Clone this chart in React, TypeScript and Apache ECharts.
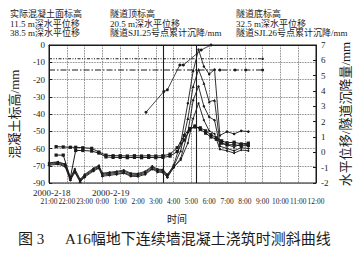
import React, { useEffect, useRef } from "react";
import * as echarts from "echarts";

// ---- data ----
const timeLabels = ["21:00", "22:00", "23:00", "0:00", "1:00", "2:00", "3:00", "4:00", "5:00", "6:00", "7:00", "8:00", "9:00", "10:00", "11:00", "12:00"];
const dateLabels = ["2000-2-18", "2000-2-19"];
const leftTickLabels = ["-90", "-70", "-60", "-50", "-40", "-30", "-20", "-10", "0"]; // from -80 to 0
const legendNames = [
  "实际混凝土面标高", "隧道顶标高", "隧道底标高",
  "11.5 m深水平位移", "20.5 m深水平位移", "32.5 m深水平位移",
  "38.5 m深水平位移", "隧道SJL25号点累计沉降/mm", "隧道SJL26号点累计沉降/mm",
];
const eventHours = [6.4, 8.3];

const concreteHours = [5.45, 6.45, 6.65, 7.35, 7.55, 8.55, 9.1];
const concreteLevel = [-39, -27, -26, -11.6, -11.6, -2.9, 0];

const tunnelTopHours = [0, 12];
const tunnelTopLevel = [-8, -8];
const tunnelBottomHours = [0, 9.6, 10.45, 11.05, 12];
const tunnelBottomLevel = [-14.5, -14.5, -14.5, -14.5, -14.5];

const dispHours = [0, 0.5, 0.9, 1.2, 1.45, 1.75, 2.0, 2.5, 2.8, 3.0, 3.4, 3.8, 4.2, 4.6, 5.0, 5.4, 5.8, 6.1, 6.4, 6.65, 7.0, 7.4, 7.8, 8.1, 8.4, 8.7, 9.0, 9.3, 9.6, 10.0, 10.4, 10.8, 11.2];
const disp115 = [-0.78, -0.72, -0.86, -1.76, -1.25, -1.88, -1.56, -1.16, -0.98, -1.5, -1.42, -1.38, -1.3, -1.5, -1.5, -1.38, -1.04, -1.22, -1.24, -1.58, -0.92, 0.1, 2.2, 4.3, 5.4, 4.5, 3.3, 3.4, 0.6, 0.5, 0.35, 0.55, 0.5];
const disp205 = [-0.72, -0.66, -0.8, -1.7, -1.15, -1.82, -1.5, -1.1, -0.9, -1.42, -1.36, -1.3, -1.22, -1.42, -1.44, -1.3, -0.96, -1.16, -1.18, -1.5, -0.85, 0.6, 3.2, 5.3, 6.7, 5.6, 5.1, 5.4, 1.1, 1.35, 1.2, 1.4, 1.35];
const disp325 = [-0.84, -0.78, -0.92, -1.82, -1.32, -1.93, -1.62, -1.22, -1.04, -1.56, -1.5, -1.44, -1.36, -1.56, -1.58, -1.44, -1.1, -1.28, -1.32, -1.64, -1.0, -0.4, 1.3, 3.4, 4.3, 3.0, 2.3, 2.1, 0.4, 0.25, 0.1, 0.3, 0.25];
const disp385 = [-0.68, -0.62, -0.76, -1.64, -1.08, -1.76, -1.44, -1.04, -0.86, -1.36, -1.3, -1.24, -1.16, -1.36, -1.38, -1.24, -0.9, -1.1, -1.12, -1.44, -0.95, -0.5, 0.6, 2.2, 3.2, 2.1, 1.4, 1.2, 0.2, 0.1, -0.05, 0.15, 0.1];

const settleHours = [0.4, 0.8, 1.2, 1.5, 1.9, 2.4, 2.8, 3.2, 3.6, 4.0, 4.4, 4.8, 5.2, 5.6, 6.0, 6.4, 6.8, 7.2, 7.6, 7.9, 8.2, 8.5, 8.8, 9.1, 9.4, 9.7, 10.0, 10.4, 10.8, 11.2];
const settleSJL25 = [0.37, 0.35, 0.33, 0.33, 0.3, 0.26, 0.02, -0.18, -0.22, -0.22, -0.24, -0.22, -0.24, -0.22, -0.24, -0.22, -0.12, 0.3, 1.1, 1.55, 1.65, 1.6, 1.4, 1.15, 0.95, 0.75, 0.62, 0.66, 0.55, 0.6];
const settleSJL26 = [-0.18, -0.18, -1.65, 0.12, 0.12, 0.08, -0.05, -0.3, -0.33, -0.33, -0.35, -0.33, -0.35, -0.33, -0.35, -0.33, -0.25, 0.05, 0.8, 1.45, 1.72, 1.5, 1.25, 1.0, 0.85, 0.6, 0.48, 0.5, 0.42, 0.45];

const captionNo = "图 3";
const captionText = "A16幅地下连续墙混凝土浇筑时测斜曲线";

// ---- helpers ----
const ink = "#1b1b1b";
const serif = '"Liberation Serif", "Noto Sans CJK SC", serif';
const zip = (xs: number[], ys: number[]) => xs.map((x, i) => [x, ys[i]]);
const zipNoFirstSymbol = (xs: number[], ys: number[]) =>
  xs.map((x, i) => (i === 0 ? { value: [x, ys[i]], symbol: "none" } : [x, ys[i]]));

function buildOption() {
  const gridLine = { show: true, lineStyle: { type: "dotted", color: "#555", width: 0.8 } };
  const line = (name: string, data: any[], yAxisIndex: number, extra: any) => ({
    type: "line",
    name,
    data,
    yAxisIndex,
    silent: true,
    showSymbol: true,
    color: ink,
    lineStyle: { color: ink, width: 0.9 },
    itemStyle: { color: ink },
    z: 3,
    ...extra,
  });

  const cols = [10, 110, 236];
  const rows = [14, 23.5, 33];
  const legendTexts = legendNames.map((t, i) => ({
    type: "text",
    x: cols[i % 3],
    y: rows[Math.floor(i / 3)],
    silent: true,
    style: { text: t, fontSize: 9, fontFamily: serif, fill: ink, align: "left", verticalAlign: "middle" },
  }));

  return {
    animation: false,
    backgroundColor: "#ffffff",
    grid: { left: 42, right: 45, top: 45, bottom: 74, show: true, borderColor: ink, borderWidth: 1, backgroundColor: "transparent" },
    xAxis: {
      type: "value",
      min: 0,
      max: 15,
      interval: 1,
      axisLine: { show: true, lineStyle: { color: ink } },
      axisTick: { show: false },
      axisLabel: {
        fontSize: 7.4,
        fontFamily: serif,
        color: ink,
        margin: 15,
        showMinLabel: true,
        showMaxLabel: true,
        hideOverlap: false,
        formatter: (v: number) => timeLabels[Math.round(v)] ?? "",
      },
      splitLine: gridLine,
    },
    yAxis: [
      {
        type: "value",
        min: -80,
        max: 0,
        interval: 10,
        name: "混凝土标高/mm",
        nameLocation: "middle",
        nameGap: 28,
        nameTextStyle: { fontSize: 13, fontFamily: serif, color: ink },
        axisLine: { show: true, lineStyle: { color: ink } },
        axisTick: { show: true, inside: true, length: 3, lineStyle: { color: ink } },
        axisLabel: {
          fontSize: 9,
          fontFamily: serif,
          color: ink,
          margin: 4,
          showMinLabel: true,
          showMaxLabel: true,
          formatter: (v: number) => leftTickLabels[Math.round((v + 80) / 10)] ?? "",
        },
        splitLine: gridLine,
      },
      {
        type: "value",
        min: -2,
        max: 7,
        interval: 1,
        position: "right",
        name: "水平位移/隧道沉降量/mm",
        nameLocation: "middle",
        nameGap: 16,
        nameTextStyle: { fontSize: 13, fontFamily: serif, color: ink },
        axisLine: { show: true, lineStyle: { color: ink } },
        axisTick: { show: true, inside: true, length: 3, lineStyle: { color: ink } },
        axisLabel: { fontSize: 9, fontFamily: serif, color: ink, margin: 5, showMinLabel: true, showMaxLabel: true },
        splitLine: { show: false },
      },
    ],
    series: [
      line(legendNames[0], zip(concreteHours, concreteLevel), 0, {
        symbol: "circle",
        symbolSize: 3,
        lineStyle: { color: ink, width: 0.8 },
        markLine: {
          silent: true,
          symbol: "none",
          label: { show: false },
          lineStyle: { color: ink, type: "solid", width: 1.1 },
          data: eventHours.map((h) => ({ xAxis: h })),
        },
      }),
      line(legendNames[1], zipNoFirstSymbol(tunnelTopHours, tunnelTopLevel), 0, {
        symbol: "circle",
        symbolSize: 2.5,
        lineStyle: { color: ink, width: 1.1, type: [3, 1.5, 1, 1.5, 1, 1.5] },
      }),
      line(legendNames[2], zipNoFirstSymbol(tunnelBottomHours, tunnelBottomLevel), 0, {
        symbol: "circle",
        symbolSize: 3,
        lineStyle: { color: ink, width: 1.1, type: [6, 2, 1.5, 2] },
      }),
      line(legendNames[3], zip(dispHours, disp115), 1, { symbol: "triangle", symbolSize: 3 }),
      line(legendNames[4], zip(dispHours, disp205), 1, { symbol: "circle", symbolSize: 2.5 }),
      line(legendNames[5], zip(dispHours, disp325), 1, { symbol: "diamond", symbolSize: 3 }),
      line(legendNames[6], zip(dispHours, disp385), 1, { symbol: "circle", symbolSize: 2 }),
      line(legendNames[7], zip(settleHours, settleSJL25), 1, {
        symbol: "rect",
        symbolSize: 3.2,
        lineStyle: { color: ink, width: 1 },
      }),
      line(legendNames[8], zip(settleHours, settleSJL26), 1, {
        symbol: "rect",
        symbolSize: 3.2,
        lineStyle: { color: ink, width: 1 },
      }),
    ],
    graphic: [
      ...legendTexts,
      {
        type: "text",
        x: 33,
        y: 192.5,
        silent: true,
        style: { text: dateLabels[0], fontSize: 9, fontFamily: serif, fill: ink, align: "left", verticalAlign: "middle" },
      },
      {
        type: "text",
        x: 92,
        y: 192.5,
        silent: true,
        style: { text: dateLabels[1], fontSize: 9, fontFamily: serif, fill: ink, align: "left", verticalAlign: "middle" },
      },
      {
        type: "text",
        x: 177,
        y: 219,
        silent: true,
        style: { text: "时间", fontSize: 10, fontFamily: serif, fill: ink, align: "center", verticalAlign: "middle" },
      },
      {
        type: "text",
        x: 18,
        y: 238.5,
        silent: true,
        style: { text: captionNo, fontSize: 15, fontFamily: serif, fill: ink, align: "left", verticalAlign: "middle" },
      },
      {
        type: "text",
        x: 65,
        y: 238.5,
        silent: true,
        style: { text: captionText, fontSize: 15, fontFamily: serif, fill: ink, align: "left", verticalAlign: "middle" },
      },
    ],
  };
}

export default function App() {
  const ref = useRef<HTMLDivElement>(null);
  useEffect(() => {
    if (!ref.current) return;
    const chart = echarts.init(ref.current, null, { renderer: "svg" });
    chart.setOption(buildOption() as any);
    return () => chart.dispose();
  }, []);
  return (
    <div
      ref={ref}
      style={{ position: "absolute", left: 0, top: 0, width: 361, height: 257, background: "#fff" }}
    />
  );
}
